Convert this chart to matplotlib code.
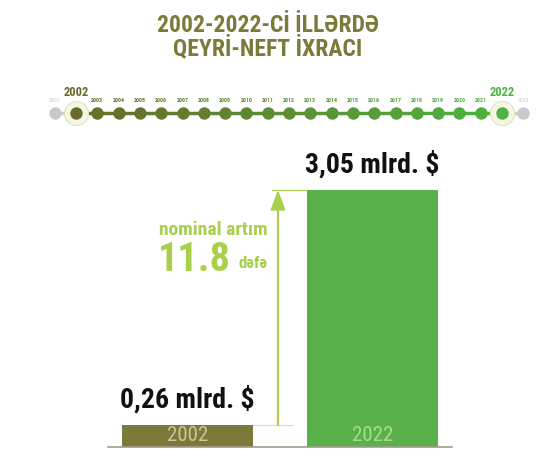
import numpy as np
import matplotlib
matplotlib.use("Agg")
import matplotlib.pyplot as plt
from matplotlib.colors import to_rgb

plt.rcParams['font.family'] = ['Roboto Condensed', 'Saira Condensed', 'DejaVu Sans']

# data
title_lines = ["2002-2022-Cİ İLLƏRDƏ", "QEYRİ-NEFT İXRACI"]
years = list(range(2001, 2024))
bar_years = ["2002", "2022"]
bar_values = [0.26, 3.05]
bar_labels = ["0,26 mlrd. $", "3,05 mlrd. $"]
growth_text = "11.8"

olive = "#7b7a3b"
green = "#5ab04a"
lime = "#a9cf4c"

fig = plt.figure(figsize=(5.59, 4.68), dpi=100)
W, H = 559.0, 468.0

# title
fig.text(268 / W, 1 - 25 / H, title_lines[0], ha="center", va="center",
         fontsize=17, fontweight=900, color=olive)
fig.text(268 / W, 1 - 48 / H, title_lines[1], ha="center", va="center",
         fontsize=17, fontweight=900, color=olive)

# timeline
tl = fig.add_axes([0, 1 - 143 / H, 1, 60 / H])
step = 21.3
tl.set_xlim(2002 - 76 / step, 2002 + (W - 76) / step)
tl.set_ylim(-1, 1)
tl.axis("off")

c0 = np.array(to_rgb("#6b6a2a"))
c1 = np.array(to_rgb("#4cb33f"))
cols = {}
for y in years:
    if y < 2002 or y > 2022:
        cols[y] = "#c9c9c9"
    else:
        t = (y - 2002) / 20
        cols[y] = tuple(c0 * (1 - t) + c1 * t)

for a, b in zip(years[:-1], years[1:]):
    c = cols[b] if a >= 2002 else "#d0d0c0"
    if b > 2022:
        c = "#d0d0d0"
    tl.plot([a, b], [0, 0], color=c, lw=2.5, zorder=1, solid_capstyle="butt")

for y in [2002, 2022]:
    tl.scatter(y, 0, s=300, facecolor="#f4f7e6", edgecolor="#dfe6b8", lw=0.8, zorder=2)
for y in years:
    tl.scatter(y, 0, s=80, color=cols[y], zorder=3, lw=0)
    if y in (2002, 2022):
        tl.text(y, 0.67, str(y), ha="center", va="center", fontsize=9,
                fontweight=900, color=cols[y])
    elif y < 2002 or y > 2022:
        tl.text(y, 0.43, str(y), ha="center", va="center", fontsize=4.2,
                color="#c9c9c9")
    else:
        tl.text(y, 0.43, str(y), ha="center", va="center", fontsize=4.2,
                fontweight="bold", color=cols[y])

# bars
ax = fig.add_axes([100 / W, 21 / H, 360 / W, 307 / H])
ax.set_xlim(-87.5 / 185, 1 + 87.5 / 185)
ax.set_ylim(0, 3.05 * 307 / 257)
ax.axis("off")
x = np.arange(len(bar_values))
width = 131 / 185
ax.bar(x, bar_values, width=width, color=[olive, green], zorder=2)
ax.plot([-0.43, 1.43], [0, 0], color="#a39b8c", lw=1.2, zorder=3, clip_on=False)

label_colors = ["#cac79c", "#a8dc8c"]
for i, yr in enumerate(bar_years):
    ax.text(x[i], 0.14, yr, ha="center", va="center", fontsize=15,
            color=label_colors[i], zorder=4)
for i, lab in enumerate(bar_labels):
    ax.text(x[i], bar_values[i] + 0.14, lab, ha="center", va="bottom",
            fontsize=20, fontweight=900, color="#111111")

# growth arrow
ax_x = 0.489
ax.plot([x[0] + width / 2, 0.565], [bar_values[0], bar_values[0]], color="#d6d6d0", lw=0.8)
ax.plot([0.457, x[1] - width / 2], [bar_values[1], bar_values[1]], color=lime, lw=0.8)
ax.annotate("", xy=(ax_x, bar_values[1]), xytext=(ax_x, bar_values[0]),
            arrowprops=dict(arrowstyle="-|>,head_length=1.2,head_width=0.45",
                            color=lime, lw=1.5, shrinkA=0, shrinkB=0))
ax.text(0.435, 2.58, "nominal artım", ha="right", va="center", fontsize=14,
        fontweight="bold", color=lime)
ax.text(0.235, 2.22, growth_text, ha="right", va="center", fontsize=29,
        fontweight=900, color=lime)
ax.text(0.435, 2.18, "dəfə", ha="right", va="center", fontsize=12,
        fontweight="bold", color=lime)

fig.savefig("out.png", dpi=100)
